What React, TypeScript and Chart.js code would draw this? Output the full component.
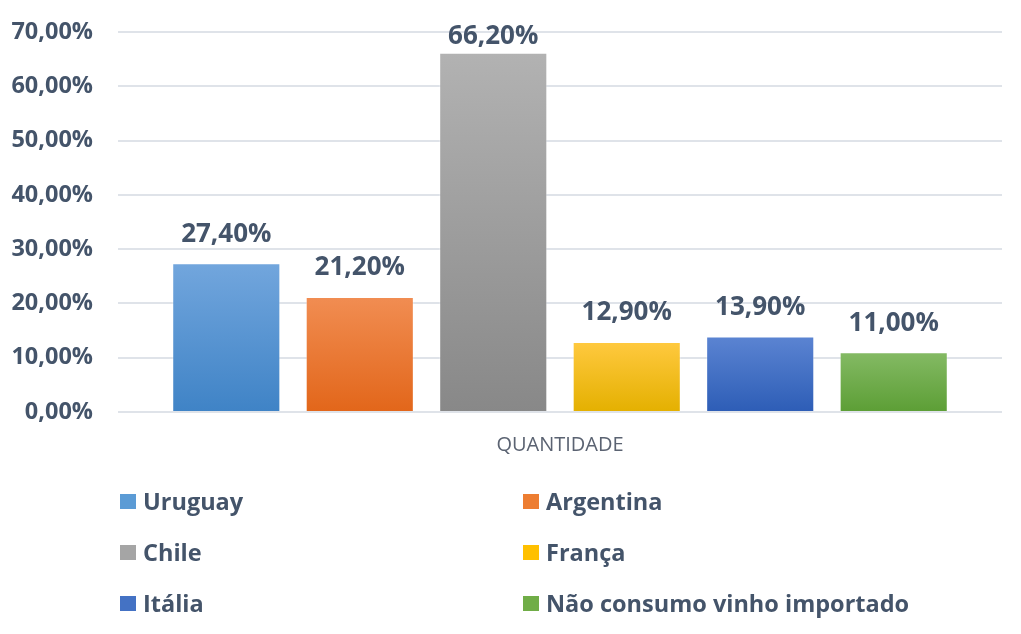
import React, { useEffect, useRef } from "react";
import { Chart, registerables } from "chart.js";

Chart.register(...registerables);

const categories = ["QUANTIDADE"];
const seriesNames = ["Uruguay", "Argentina", "Chile", "França", "Itália", "Não consumo vinho importado"];
const seriesValues = [27.4, 21.2, 66.2, 12.9, 13.9, 11.0];
const topColors = ["#72a6dd", "#f18d52", "#b2b2b2", "#ffc93f", "#5b84d2", "#84ba64"];
const bottomColors = ["#3f83c6", "#e2661a", "#888888", "#e4b000", "#2d5db6", "#5c9e35"];
const legendColors = ["#5b9bd5", "#ed7d31", "#a5a5a5", "#ffc000", "#4472c4", "#70ad47"];
const yTicks = [0, 10, 20, 30, 40, 50, 60, 70];

const TEXT = "#44546a";
const FONT = "'Open Sans', 'DejaVu Sans', sans-serif";

const fmt = (v: number) => v.toFixed(2).replace(".", ",") + "%";

export default function App() {
  const ref = useRef<HTMLCanvasElement | null>(null);

  useEffect(() => {
    if (!ref.current) return;
    const labelPlugin = {
      id: "barLabels",
      afterDatasetsDraw(chart: any) {
        const ctx = chart.ctx;
        ctx.save();
        ctx.font = `bold 26px ${FONT}`;
        ctx.fillStyle = TEXT;
        ctx.textAlign = "center";
        ctx.textBaseline = "middle";
        chart.data.datasets.forEach((ds: any, i: number) => {
          const meta = chart.getDatasetMeta(i);
          meta.data.forEach((bar: any, j: number) => {
            const y = Math.max(bar.y - 29, 37);
            ctx.fillText(fmt(ds.data[j]), bar.x, y);
          });
        });
        ctx.restore();
      },
    };

    const chart = new Chart(ref.current, {
      type: "bar",
      data: {
        labels: categories,
        datasets: seriesNames.map((name, i) => ({
          label: name,
          data: [seriesValues[i]],
          backgroundColor: (context: any) => {
            const c = context.chart;
            const area = c.chartArea;
            if (!area || context.parsed == null) return legendColors[i];
            const yScale = c.scales.y;
            const top = yScale.getPixelForValue(seriesValues[i]);
            const bottom = yScale.getPixelForValue(0);
            const g = c.ctx.createLinearGradient(0, top, 0, bottom);
            g.addColorStop(0, topColors[i]);
            g.addColorStop(1, bottomColors[i]);
            return g;
          },
          borderColor: "rgba(255,255,255,0.35)",
          borderWidth: 1,
          barPercentage: 0.81,
          categoryPercentage: 0.906,
        })),
      },
      options: {
        animation: false,
        responsive: false,
        maintainAspectRatio: false,
        layout: { padding: { top: 32, left: 0, right: 19, bottom: 162 } },
        plugins: {
          legend: { display: false },
          tooltip: { enabled: false },
        },
        scales: {
          x: {
            grid: { display: false, drawTicks: false },
            border: { display: false },
            ticks: {
              color: "#5b6372",
              font: { family: FONT, size: 20 },
              padding: 21,
            },
            afterFit: (s: any) => {
              s.height = 60;
            },
          },
          y: {
            min: 0,
            max: 70,
            afterBuildTicks: (s: any) => {
              s.ticks = yTicks.map((v) => ({ value: v }));
            },
            grid: { color: "#dfe3e9", lineWidth: 2, drawTicks: false },
            border: { display: false },
            ticks: {
              color: TEXT,
              font: { family: FONT, size: 23.5, weight: "bold" },
              padding: 25,
              callback: (v: any) => fmt(Number(v)),
            },
            afterFit: (s: any) => {
              s.width = 118;
              s.paddingTop = 14;
              s.paddingBottom = 14;
            },
          },
        },
      },
      plugins: [labelPlugin],
    } as any);
    return () => chart.destroy();
  }, []);

  return (
    <div style={{ position: "absolute", left: 0, top: 0, width: 1021, height: 634, background: "#fff", overflow: "hidden" }}>
      <canvas ref={ref} width={1021} height={634} style={{ position: "absolute", left: 0, top: 0, width: 1021, height: 634 }} />
      {seriesNames.map((name, i) => {
        const col = i % 2;
        const row = Math.floor(i / 2);
        const left = col === 0 ? 120 : 523;
        const cy = [501, 552, 603][row];
        return (
          <div
            key={name}
            style={{
              position: "absolute",
              left,
              top: cy - 16,
              height: 32,
              display: "flex",
              alignItems: "center",
              fontFamily: FONT,
              fontWeight: "bold",
              fontSize: 23.5,
              color: TEXT,
              whiteSpace: "nowrap",
            }}
          >
            <span style={{ display: "inline-block", width: 16, height: 15, background: legendColors[i], marginRight: 7 }} />
            <span>{name}</span>
          </div>
        );
      })}
    </div>
  );
}
